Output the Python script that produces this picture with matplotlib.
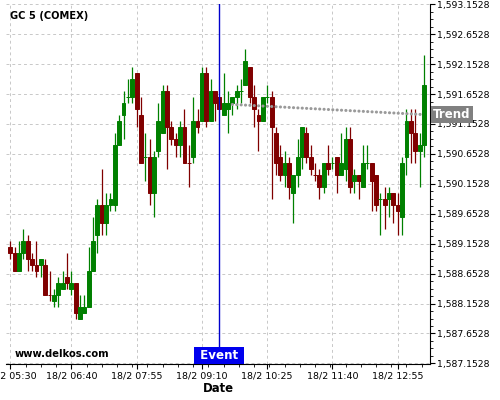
import numpy as np
import matplotlib
matplotlib.use("Agg")
import matplotlib.pyplot as plt
from matplotlib.ticker import FixedLocator, FuncFormatter, AutoMinorLocator

##############################
# 5 minute candles, GC (COMEX)
opens = [1589.1, 1589.0, 1588.7, 1589.0, 1589.2, 1588.9, 1588.8, 1588.8, 1588.8, 1588.3,
         1588.2, 1588.3, 1588.4, 1588.6, 1588.4, 1588.5, 1587.9, 1588.0, 1588.1, 1588.7,
         1589.3, 1589.8, 1589.5, 1589.8, 1589.8, 1590.8, 1591.3, 1591.6, 1591.6, 1592.0,
         1591.3, 1590.6, 1590.6, 1590.0, 1590.7, 1591.0, 1591.7, 1591.1, 1590.9, 1590.8,
         1591.1, 1590.5, 1590.6, 1591.2, 1591.2, 1592.0, 1591.2, 1591.7, 1591.6, 1591.3,
         1591.4, 1591.5, 1591.6, 1591.7, 1591.8, 1592.1, 1591.6, 1591.3, 1591.2, 1591.6,
         1591.6, 1591.0, 1590.6, 1590.3, 1590.5, 1590.0, 1590.3, 1590.6, 1591.0, 1590.6,
         1590.3, 1590.3, 1590.1, 1590.5, 1590.5, 1590.6, 1590.3, 1590.4, 1590.9, 1590.2,
         1590.3, 1590.1, 1590.5, 1590.5, 1590.3, 1589.9, 1589.9, 1589.9, 1590.0, 1589.8,
         1589.6, 1590.6, 1591.2, 1591.0, 1590.7, 1590.8]
highs = [1589.2, 1589.1, 1589.2, 1589.4, 1589.3, 1589.0, 1589.2, 1588.9, 1588.9, 1588.7,
         1588.4, 1588.6, 1588.7, 1589.0, 1588.7, 1588.5, 1588.3, 1588.3, 1589.1, 1589.6,
         1589.9, 1590.4, 1590.0, 1590.0, 1591.0, 1591.3, 1591.7, 1591.9, 1592.1, 1592.0,
         1591.6, 1591.0, 1590.9, 1590.7, 1591.5, 1591.8, 1591.8, 1591.2, 1591.0, 1591.2,
         1591.4, 1590.8, 1591.6, 1591.4, 1592.1, 1592.1, 1591.9, 1591.7, 1591.6, 1592.0,
         1591.7, 1591.6, 1591.8, 1591.9, 1592.4, 1592.1, 1591.8, 1591.4, 1591.6, 1591.8,
         1591.7, 1591.1, 1590.8, 1590.7, 1590.6, 1590.3, 1590.9, 1591.1, 1591.1, 1590.8,
         1590.5, 1590.4, 1590.5, 1590.8, 1590.6, 1590.6, 1591.0, 1591.1, 1591.1, 1590.4,
         1590.3, 1590.8, 1590.8, 1590.5, 1590.3, 1590.0, 1590.1, 1590.1, 1590.0, 1590.0,
         1590.6, 1591.4, 1591.4, 1591.4, 1591.0, 1592.3]
lows = [1588.9, 1588.7, 1588.7, 1588.9, 1588.7, 1588.7, 1588.6, 1588.6, 1588.3, 1588.2,
        1588.1, 1588.1, 1588.4, 1588.4, 1588.3, 1587.9, 1587.9, 1588.0, 1588.1, 1588.7,
        1589.0, 1589.3, 1589.3, 1589.7, 1589.7, 1590.8, 1590.9, 1591.5, 1591.5, 1591.1,
        1590.5, 1590.2, 1589.8, 1589.6, 1590.6, 1591.0, 1590.4, 1590.8, 1590.6, 1590.6,
        1590.5, 1590.1, 1590.5, 1591.0, 1591.2, 1591.1, 1591.2, 1591.2, 1591.4, 1591.3,
        1591.0, 1591.3, 1591.4, 1591.5, 1591.8, 1591.5, 1591.1, 1590.7, 1591.2, 1591.5,
        1589.9, 1590.3, 1590.2, 1590.1, 1589.9, 1589.5, 1590.1, 1590.4, 1590.5, 1590.3,
        1590.2, 1589.9, 1590.0, 1590.3, 1590.4, 1590.0, 1590.3, 1590.2, 1590.0, 1590.0,
        1589.9, 1590.1, 1590.4, 1589.7, 1589.7, 1589.3, 1589.4, 1589.6, 1589.5, 1589.3,
        1589.3, 1590.3, 1590.5, 1590.5, 1590.1, 1590.6]
closes = [1589.0, 1588.7, 1589.0, 1589.2, 1588.9, 1588.8, 1588.7, 1588.9, 1588.3, 1588.3,
          1588.3, 1588.5, 1588.5, 1588.5, 1588.5, 1588.0, 1588.1, 1588.1, 1588.7, 1589.2,
          1589.8, 1589.5, 1589.8, 1589.9, 1590.8, 1591.2, 1591.5, 1591.6, 1591.9, 1591.4,
          1590.5, 1590.6, 1590.0, 1590.6, 1591.2, 1591.7, 1591.1, 1590.9, 1590.8, 1591.1,
          1590.5, 1590.5, 1591.2, 1591.1, 1592.0, 1591.2, 1591.7, 1591.5, 1591.4, 1591.5,
          1591.5, 1591.6, 1591.7, 1591.7, 1592.2, 1591.6, 1591.4, 1591.2, 1591.6, 1591.6,
          1591.1, 1590.5, 1590.3, 1590.5, 1590.1, 1590.3, 1590.6, 1591.1, 1590.6, 1590.4,
          1590.3, 1590.1, 1590.5, 1590.4, 1590.5, 1590.3, 1590.5, 1590.9, 1590.1, 1590.3,
          1590.2, 1590.5, 1590.5, 1590.2, 1589.8, 1589.9, 1589.8, 1590.0, 1589.8, 1589.7,
          1590.5, 1591.2, 1591.0, 1590.7, 1590.8, 1591.8]
# dojis (open == close) drawn in the up colour
up_dojis = [27, 31, 53, 59, 74, 82, 85]

tick_bars = [0, 14, 29, 44, 59, 74, 89]
tick_labels = ["18/2 05:30", "18/2 06:40", "18/2 07:55", "18/2 09:10",
               "18/2 10:25", "18/2 11:40", "18/2 12:55"]
y_ticks = [1587.1528, 1587.6528, 1588.1528, 1588.6528, 1589.1528, 1589.6528,
           1590.1528, 1590.6528, 1591.1528, 1591.6528, 1592.1528, 1592.6528, 1593.1528]

event_bar = 48
trend_x = [51, 95]
trend_y = [1591.48, 1591.31]

UP = "#008000"
DOWN = "#800000"
##############################
fig = plt.figure(figsize=(5, 4), dpi=100)
ax = fig.add_axes([0.012, 0.09, 0.848, 0.9])

x = np.arange(len(opens))
o = np.array(opens)
c = np.array(closes)
up = c > o
up[up_dojis] = True
cols = np.where(up, UP, DOWN)

ax.vlines(x, lows, highs, colors=cols, lw=0.9, zorder=3)
ax.bar(x, np.abs(c - o), bottom=np.minimum(o, c), width=0.9,
       color=cols, edgecolor=cols, lw=0.7, zorder=4)

# trend
ax.plot(trend_x, trend_y, color="#9a9a9a", lw=2.2, linestyle=(0, (0.05, 1.38)),
        dash_capstyle="round", zorder=5)

# event
ax.axvline(event_bar, color="#0000cc", lw=1.0, zorder=6)
ax.annotate(" Event ", xy=(event_bar, 0), xycoords=ax.get_xaxis_transform(),
            xytext=(0, 1.4), textcoords="offset points", ha="center", va="bottom",
            color="white", fontsize=8.6, fontweight="bold", zorder=10,
            bbox=dict(boxstyle="square,pad=0.15", fc="#0000ee", ec="none"))

ax.annotate("Trend", xy=(1, trend_y[-1]), xycoords=ax.get_yaxis_transform(),
            xytext=(2.4, 0), textcoords="offset points", ha="left", va="center",
            color="white", fontsize=8.5, fontweight="bold", zorder=10,
            annotation_clip=False,
            bbox=dict(boxstyle="square,pad=0.2", fc="#808080", ec="none"))

ax.text(0.01, 0.967, "GC 5 (COMEX)", transform=ax.transAxes, fontsize=7.1,
        fontweight="bold", va="center", ha="left")
ax.text(0.021, 0.029, "www.delkos.com", transform=ax.transAxes, fontsize=7.2,
        fontweight="bold", va="center", ha="left")

ax.set_xlim(-1, 96.4)
ax.set_ylim(1587.1528 - 0.01, 1593.1528 + 0.005)

ax.xaxis.set_major_locator(FixedLocator(tick_bars))
ax.set_xticklabels(tick_labels, fontsize=6.8)
ax.xaxis.set_minor_locator(AutoMinorLocator(4))
ax.yaxis.tick_right()
ax.yaxis.set_major_locator(FixedLocator(y_ticks))
ax.yaxis.set_major_formatter(FuncFormatter(lambda v, p: f"{v:,.4f}"))
ax.yaxis.set_minor_locator(AutoMinorLocator(4))
ax.tick_params(axis="y", which="major", labelsize=6.7, length=3.6, pad=1.5)
ax.tick_params(axis="x", which="major", length=3.6, pad=2)
ax.tick_params(which="minor", length=2.2)

ax.set_xlabel("Date", fontsize=8.4, fontweight="bold", labelpad=1)

for s in ["top", "left"]:
    ax.spines[s].set_visible(False)
ax.grid(True, which="major", color="#c8c8c8", lw=0.7, linestyle=(0, (3, 3)))
ax.set_axisbelow(True)

fig.savefig("out.png", dpi=100)
